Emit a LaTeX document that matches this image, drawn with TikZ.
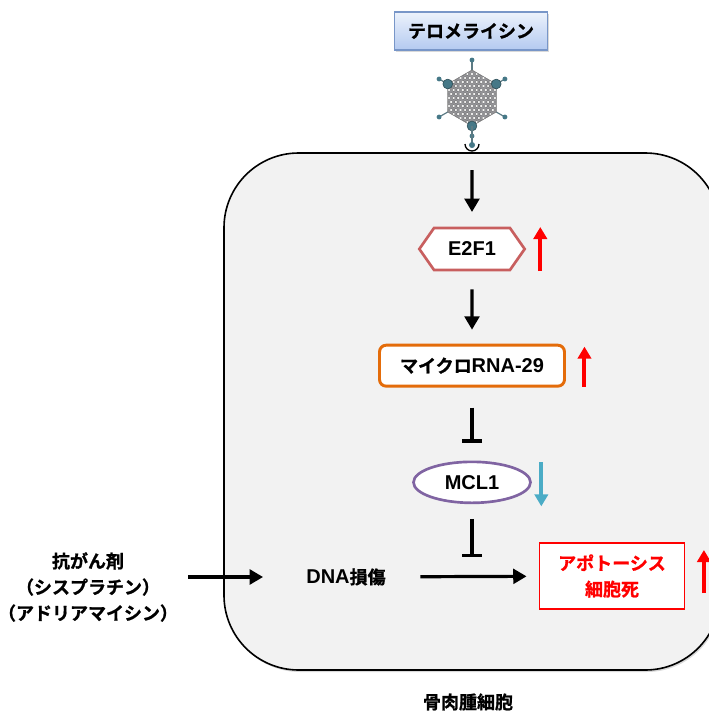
\documentclass[tikz,border=0pt]{standalone}
\usepackage{fontspec}
\setmainfont{Liberation Sans}
\newfontfamily\jp{Noto Sans CJK JP}[Scale=0.9, BoldFont={Noto Sans CJK JP Bold}, BoldFeatures={FakeBold=1}]
\usepackage{tikz}
\usetikzlibrary{shapes.geometric, shapes.symbols, arrows.meta, shadows}
\definecolor{cellgray}{RGB}{242,242,242}
\definecolor{agentedge}{RGB}{120,150,200}
\definecolor{agenttop}{RGB}{236,242,252}
\definecolor{agentbottom}{RGB}{180,202,240}
\definecolor{factorred}{RGB}{200,95,95}
\definecolor{mirorange}{RGB}{228,108,10}
\definecolor{mclpurple}{RGB}{128,100,162}
\definecolor{downteal}{RGB}{75,172,198}
\definecolor{capsid}{RGB}{150,150,155}
\definecolor{knob}{RGB}{70,120,135}
\tikzstyle{agent} = [rectangle, minimum width=115pt, minimum height=28.5pt, text centered, draw=agentedge, line width=0.8pt, top color=agenttop, bottom color=agentbottom, drop shadow={shadow xshift=1.2pt, shadow yshift=-1.5pt, opacity=0.3}]
\tikzstyle{factor} = [signal, signal to=west and east, signal pointer angle=110, minimum width=79pt, minimum height=31.5pt, inner sep=0pt, draw=factorred, line width=2pt, fill=white]
\tikzstyle{rnabox} = [rectangle, rounded corners=5pt, minimum width=138.75pt, minimum height=30.75pt, draw=mirorange, line width=2.2pt, fill=white]
\tikzstyle{protein} = [ellipse, minimum width=87.75pt, minimum height=30.75pt, inner sep=0pt, draw=mclpurple, line width=2pt, fill=white]
\tikzstyle{outcome} = [rectangle, minimum width=108.75pt, minimum height=49.5pt, align=center, draw=red, line width=1.4pt, fill=white, text=red]
\tikzstyle{spike} = [knob!60!gray, line width=0.9pt]
\tikzstyle{arrow} = [line width=2.4pt, -{Triangle[length=10pt, width=11pt]}]
\tikzstyle{inhibit} = [line width=2.4pt, -{Bar[width=15pt]}]
\tikzstyle{upreg} = [red, line width=3pt, -{Triangle[length=9pt, width=10pt]}]
\tikzstyle{downreg} = [downteal, line width=3pt, -{Triangle[length=9pt, width=10pt]}]

\begin{document}
\begin{tikzpicture}[x=0.75pt, y=-0.75pt, node distance=87.5pt, font=\bfseries\fontsize{15pt}{19.5pt}\selectfont]
\useasboundingbox (0,0) rectangle (709,711);
\clip (0,0) rectangle (709,711);

\draw [fill=cellgray, line width=1.2pt, rounded corners=56pt, drop shadow={shadow xshift=1pt, shadow yshift=-1.5pt, opacity=0.3}] (224,153) rectangle (720,670);
\node (cell) at (468,702) {\jp 骨肉腫細胞};

\node (tel) [agent] at (471,31) {\jp テロメライシン};

\coordinate (virus) at (472,98);
\begin{scope}[shift={(virus)}]
\foreach \a in {30,90,150,210,270,330}
  \draw [spike] (0,0) -- (\a:38) node [circle, fill=knob, inner sep=1.3pt] {};
\fill [capsid] (30:28) -- (90:28) -- (150:28) -- (210:28) -- (270:28) -- (330:28) -- cycle;
\begin{scope}
\clip (30:28) -- (90:28) -- (150:28) -- (210:28) -- (270:28) -- (330:28) -- cycle;
\foreach \j in {-8,...,8}
  \foreach \i in {-10,...,10}
    \filldraw [fill=white!92!gray, draw=black!55, line width=0.35pt] (\i*4.6+\j*2.3, \j*4) circle (1.9);
\end{scope}
\draw [black!50, line width=0.4pt] (30:28) -- (90:28) -- (150:28) -- (210:28) -- (270:28) -- (330:28) -- cycle;
\foreach \a in {90,210,330}
  \node [circle, fill=knob, draw=knob!60!black, inner sep=2.6pt] at (\a:28) {};
\draw [spike, line width=1.2pt] (0,28) -- (0,45);
\draw [black, line width=1pt] (-7,46) arc [start angle=180, end angle=0, radius=7];
\node [circle, fill=knob, inner sep=1.6pt] at (0,47) {};
\end{scope}

\node (e2f1) [factor] at (472,249) {E2F1};
\node (mir29) [rnabox, below of=e2f1] {{\jp マイクロ}RNA-29};
\node (mcl1) [protein, below of=mir29] {MCL1};
\node (dna) [inner sep=0pt, minimum width=72pt] at (346,577) {DNA{\jp 損傷}};
\node (apop) [outcome] at (612,576) {\jp アポトーシス\\\jp 細胞死};
\node (drugs) [align=center] at (88,587) {\jp 抗がん剤\\\jp （シスプラチン）\\\jp （アドリアマイシン）};
\coordinate (entry) at (472,170);
\coordinate (block) at (472,557);

\draw [arrow, shorten >=11pt] (entry) -- (e2f1);
\draw [arrow, shorten <=13.5pt, shorten >=10.5pt] (e2f1) -- (mir29);
\draw [inhibit, shorten <=15pt, shorten >=13.5pt] (mir29) -- (mcl1);
\draw [inhibit, shorten <=11pt] (mcl1) -- (block);
\draw [arrow, shorten <=4pt, shorten >=26pt] (drugs.east |- dna) -- (dna);
\draw [arrow, shorten <=19.5pt, shorten >=9pt] (dna) -- (apop);

\draw [upreg] ([shift={(14,22)}]e2f1.east) -- ++(0,-44);
\draw [upreg] ([shift={(18.5,21)}]mir29.east) -- ++(0,-40);
\draw [downreg] ([shift={(9.5,-20)}]mcl1.east) -- ++(0,44);
\draw [upreg] ([shift={(18.5,17)}]apop.east) -- ++(0,-43);

\end{tikzpicture}
\end{document}
